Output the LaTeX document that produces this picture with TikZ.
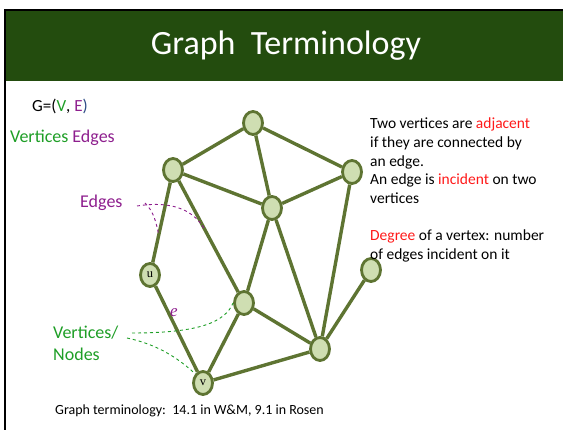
\documentclass[tikz,border=0pt]{standalone}
\usepackage{fontspec}
\setmainfont{Carlito}
\newfontfamily\serifface{Liberation Serif}
\usepackage{xcolor}
\usepackage{tikz}
\usetikzlibrary{shapes.geometric,calc}
\definecolor{banner}{HTML}{234C0E}
\definecolor{olive}{HTML}{5E7432}
\definecolor{leaf}{HTML}{CFDEB2}
\definecolor{vgreen}{HTML}{1E9E26}
\definecolor{epurple}{HTML}{8E1F8E}
\definecolor{hot}{HTML}{FF1A1A}
\definecolor{paren}{HTML}{2E4C86}
\tikzset{
  vtx/.style={ellipse,draw=olive,fill=leaf,line width=2.8pt,minimum width=19pt,minimum height=23pt,
              inner sep=0pt,font=\serifface\fontsize{12.5}{12.5}\selectfont},
  edge/.style={draw=olive,line width=3.4pt},
  hint/.style={dashed,line width=0.9pt,draw=#1},
  txt/.style={font=\fontsize{#1}{#1}\selectfont,inner sep=0pt},
  txt/.default=18,
}
\begin{document}
\begin{tikzpicture}[x=1pt,y=-1pt]
  \useasboundingbox (0,0) rectangle (563,430);
  % slide frame and title bar
  \fill[banner] (6,11) rectangle (563,81);
  \draw[line width=2pt] (5,430) -- (5,10) -- (563,10);
  \node[txt=34,text=white] (title) at (286,46) {Graph\ \ Terminology};

  % vertices
  \node[vtx] (top) at (253,123) {};
  \node[vtx] (lu)  at (173,170) {};
  \node[vtx] (ru)  at (352,172) {};
  \node[vtx] (ctr) at (272,208) {};
  \node[vtx] (u)   at (150,275) {u};
  \node[vtx] (lone) at (371,270) {};
  \node[vtx] (ml)  at (244,303) {};
  \node[vtx] (br)  at (320,349) {};
  \node[vtx] (v)   at (203,383) {v};

  % edges
  \draw[edge] (top) -- (lu);
  \draw[edge] (top) -- (ru);
  \draw[edge] (top) -- (ctr);
  \draw[edge] (lu) -- (ctr);
  \draw[edge] (lu) -- (u);
  \draw[edge] (lu) -- (ml);
  \draw[edge] (ru) -- (ctr);
  \draw[edge] (ru) -- (br);
  \draw[edge] (ctr) -- (ml);
  \draw[edge] (ctr) -- (br);
  \draw[edge] (u) -- (v);
  \draw[edge] (ml) -- (v);
  \draw[edge] (ml) -- (br);
  \draw[edge] (v) -- (br);
  \draw[edge] (lone) -- (br);
  \node[font=\serifface\itshape\fontsize{17}{17}\selectfont,text=epurple,inner sep=0pt] (e) at (174,313) {e};

  % left labels
  \node[txt=17,anchor=west] (gdef) at (32,106) {G=(\textcolor{vgreen}{V}, \textcolor{epurple}{E}\textcolor{paren}{)}};
  \node[txt,anchor=west] (names) at (10,138) {\textcolor{vgreen}{Vertices} \textcolor{epurple}{Edges}};
  \node[txt,anchor=west,text=epurple] (edg) at (80,203) {Edges};
  \node[txt,anchor=west,text=vgreen,align=left,font=\fontsize{18}{22}\selectfont] (vn) at (53,343) {Vertices/\\Nodes};

  % pointers from the labels
  \coordinate (e1) at ($(lu)!0.45!(ml)$);
  \coordinate (e2) at ($(lu)!0.62!(u)$);
  \draw[hint=epurple] (137,206) .. controls (175,200) and (195,212) .. (e1);
  \draw[hint=epurple] (145,203) .. controls (154,212) and (156,222) .. (e2);
  \draw[hint=vgreen] (132,333) .. controls (200,333) and (225,322) .. (ml.west);
  \draw[hint=vgreen] (127,338) .. controls (160,345) and (180,360) .. (v.north west);

  % definitions
  \node[anchor=north west,align=left,inner sep=0pt,font=\fontsize{15.5}{18.6}\selectfont] (defs) at (370,118)
    {Two vertices are \textcolor{hot}{adjacent}\\ if they are connected by\\ an edge.\\
     An edge is \textcolor{hot}{incident} on two\\ vertices\\[18.6pt]
     \textcolor{hot}{Degree} of a vertex: number\\ of edges incident on it};

  \node[txt=14,anchor=west] (cap) at (55,411) {Graph terminology:\ \ 14.1 in W\&M, 9.1 in Rosen};
\end{tikzpicture}
\end{document}
